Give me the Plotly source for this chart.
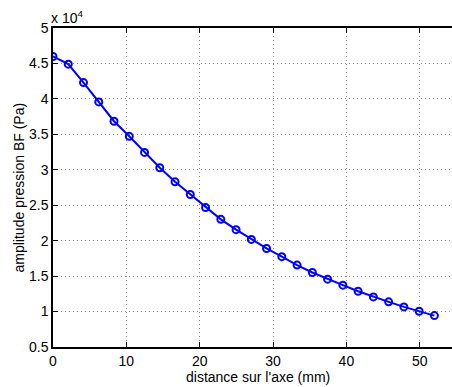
import plotly.graph_objects as go

distance_mm = [0, 2.08, 4.16, 6.24, 8.32, 10.4, 12.48, 14.56, 16.64, 18.72, 20.8, 22.88, 24.96,
               27.04, 29.12, 31.2, 33.28, 35.36, 37.44, 39.52, 41.6, 43.68, 45.76, 47.84, 49.92, 52.0]
amplitude_pa = [45980, 44900, 42300, 39570, 36850, 34720, 32450, 30280, 28300, 26510, 24670, 23010, 21550,
                20180, 18900, 17740, 16550, 15510, 14570, 13720, 12870, 12070, 11370, 10660, 10040, 9430]

x_ticks = [0, 10, 20, 30, 40, 50]
y_tickvals = [5000, 10000, 15000, 20000, 25000, 30000, 35000, 40000, 45000, 50000]
y_ticktext = ["0.5", "1", "1.5", "2", "2.5", "3", "3.5", "4", "4.5", "5"]

fig = go.Figure()
fig.add_trace(go.Scatter(
    x=distance_mm, y=amplitude_pa, mode="lines+markers",
    line=dict(color="#0000FF", width=2),
    marker=dict(symbol="circle-open", size=7, color="#0000FF", line=dict(width=2, color="#0000FF")),
    showlegend=False,
))

font = dict(family="Liberation Sans, Arial, sans-serif", size=14, color="black")

fig.update_layout(
    width=452, height=387,
    margin=dict(l=53, r=0, t=28, b=40, autoexpand=False),
    paper_bgcolor="white", plot_bgcolor="white",
    font=font,
    xaxis=dict(
        range=[0, 54.4], tickvals=x_ticks, ticks="inside", ticklen=5, tickcolor="black",
        showline=True, linecolor="black", linewidth=1.5, mirror="allticks",
        showgrid=True, gridcolor="#888888", griddash="1px,3px", gridwidth=1, zeroline=False,
        automargin=False, tickfont=font,
    ),
    yaxis=dict(
        range=[5000, 50000], tickvals=y_tickvals, ticktext=y_ticktext, ticks="inside", ticklen=5,
        tickcolor="black", showline=True, linecolor="black", linewidth=1.5, mirror=False,
        showgrid=True, gridcolor="#888888", griddash="1px,3px", gridwidth=1, zeroline=False,
        automargin=False, tickfont=font, ticklabelstandoff=0,
    ),
    annotations=[
        dict(text="x 10<sup>4</sup>", xref="paper", yref="paper", x=0, y=1.0, xanchor="left",
             yanchor="bottom", showarrow=False, font=font, yshift=0, xshift=-4),
        dict(text="distance sur l'axe (mm)", xref="paper", yref="paper", x=0.5, y=0,
             xanchor="center", yanchor="middle", showarrow=False, font=font, yshift=-30, xshift=5),
        dict(text="amplitude pression BF (Pa)", xref="paper", yref="paper", x=0, y=0.5,
             xanchor="center", yanchor="middle", showarrow=False, font=font, textangle=-90, xshift=-35),
    ],
)

fig.write_html("out.html", config={"displayModeBar": False},
               post_script="document.body.style.margin='0';document.body.style.padding='0';")
